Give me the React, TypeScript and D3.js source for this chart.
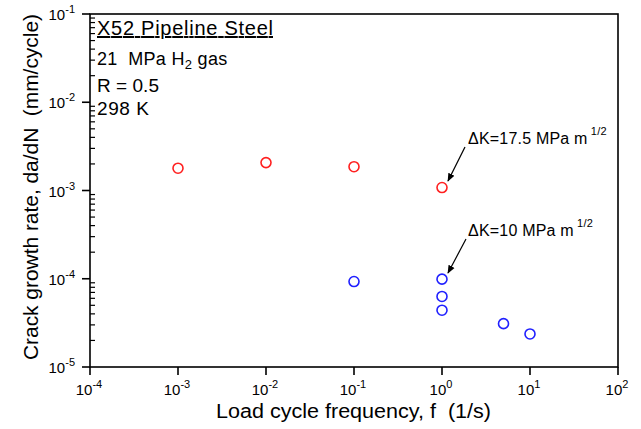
import React from "react";
import * as d3 from "d3";

const redFreq = [1e-3, 1e-2, 1e-1, 1];
const redRate = [1.79e-3, 2.07e-3, 1.86e-3, 1.08e-3];
const blueFreq = [0.1, 1, 1, 1, 5, 10];
const blueRate = [9.3e-5, 9.9e-5, 6.3e-5, 4.4e-5, 3.1e-5, 2.37e-5];
const xExps = [-4, -3, -2, -1, 0, 1, 2];
const yExps = [-5, -4, -3, -2, -1];

const W = 641, H = 429;
const L = 90, R = 618, T = 14, B = 367;
const FONT = "Liberation Sans, Arial, sans-serif";

export default function App() {
  const x = d3.scaleLog().domain([1e-4, 1e2]).range([L, R]);
  const y = d3.scaleLog().domain([1e-5, 1e-1]).range([B, T]);

  const minors: number[] = [];
  for (let e = -5; e < -1; e++) for (let m = 2; m <= 9; m++) minors.push(m * Math.pow(10, e));

  return (
    <svg width={W} height={H} style={{ position: "absolute", left: 0, top: 0, background: "#fff" }} fontFamily={FONT}>
      <defs>
        <marker id="ah" viewBox="0 0 10 10" refX="9" refY="5" markerWidth="7" markerHeight="7" orient="auto">
          <path d="M0,1 L10,5 L0,9 Z" fill="#000" />
        </marker>
      </defs>
      <rect x={0} y={0} width={W} height={H} fill="#fff" />
      <rect x={L} y={T} width={R - L} height={B - T} fill="none" stroke="#000" strokeWidth={1.6} />
      {yExps.map((e) => (
        <g key={"y" + e}>
          <line x1={L - 8} x2={L} y1={y(Math.pow(10, e))} y2={y(Math.pow(10, e))} stroke="#000" strokeWidth={1.6} />
          <text x={75} y={y(Math.pow(10, e)) + 6} textAnchor="end" fontSize={15} fill="#000">
            10<tspan fontSize={11} dy={-7}>{e}</tspan>
          </text>
        </g>
      ))}
      {minors.map((v, i) => (
        <line key={"m" + i} x1={L} x2={L + 5} y1={y(v)} y2={y(v)} stroke="#000" strokeWidth={1.2} />
      ))}
      {xExps.map((e) => (
        <g key={"x" + e}>
          <line x1={x(Math.pow(10, e))} x2={x(Math.pow(10, e))} y1={B} y2={B + 8} stroke="#000" strokeWidth={1.6} />
          <text x={x(Math.pow(10, e)) - 1} y={395} textAnchor="middle" fontSize={15} fill="#000">
            10<tspan fontSize={11} dy={-7}>{e}</tspan>
          </text>
        </g>
      ))}
      <text x={216} y={418} fontSize={20} fill="#000" textLength={275} lengthAdjust="spacingAndGlyphs" xmlSpace="preserve">
        Load cycle frequency, f  (1/s)
      </text>
      <text transform={`translate(38,360) rotate(-90)`} fontSize={21} fill="#000" textLength={346} lengthAdjust="spacingAndGlyphs" xmlSpace="preserve">
        Crack growth rate, da/dN  (mm/cycle)
      </text>
      <text x={97} y={35} fontSize={20} fill="#000" textDecoration="underline" textLength={176} lengthAdjust="spacing">X52 Pipeline Steel</text>
      <text x={97} y={65} fontSize={18} fill="#000" xmlSpace="preserve" letterSpacing={0.3}>
        21  MPa H<tspan fontSize={13} dy={4}>2</tspan><tspan dy={-4}> gas</tspan>
      </text>
      <text x={97} y={92} fontSize={19} fill="#000" textLength={62} lengthAdjust="spacing">R = 0.5</text>
      <text x={97} y={115} fontSize={19} fill="#000" textLength={52} lengthAdjust="spacing">298 K</text>
      <text x={468} y={144} fontSize={16} fill="#000" letterSpacing={0.2}>
        ΔK=17.5 MPa m<tspan fontSize={11} dy={-9}> 1/2</tspan>
      </text>
      <line x1={465} y1={147} x2={448} y2={181} stroke="#000" strokeWidth={1.2} markerEnd="url(#ah)" />
      <text x={468} y={236} fontSize={16} fill="#000" letterSpacing={0.2}>
        ΔK=10 MPa m<tspan fontSize={11} dy={-9}> 1/2</tspan>
      </text>
      <line x1={466} y1={239} x2={448} y2={273} stroke="#000" strokeWidth={1.2} markerEnd="url(#ah)" />
      {redFreq.map((f, i) => (
        <circle key={"r" + i} cx={x(f)} cy={y(redRate[i])} r={5} fill="none" stroke="#ff2020" strokeWidth={1.6} />
      ))}
      {blueFreq.map((f, i) => (
        <circle key={"b" + i} cx={x(f)} cy={y(blueRate[i])} r={5} fill="none" stroke="#2020ff" strokeWidth={1.6} />
      ))}
    </svg>
  );
}
